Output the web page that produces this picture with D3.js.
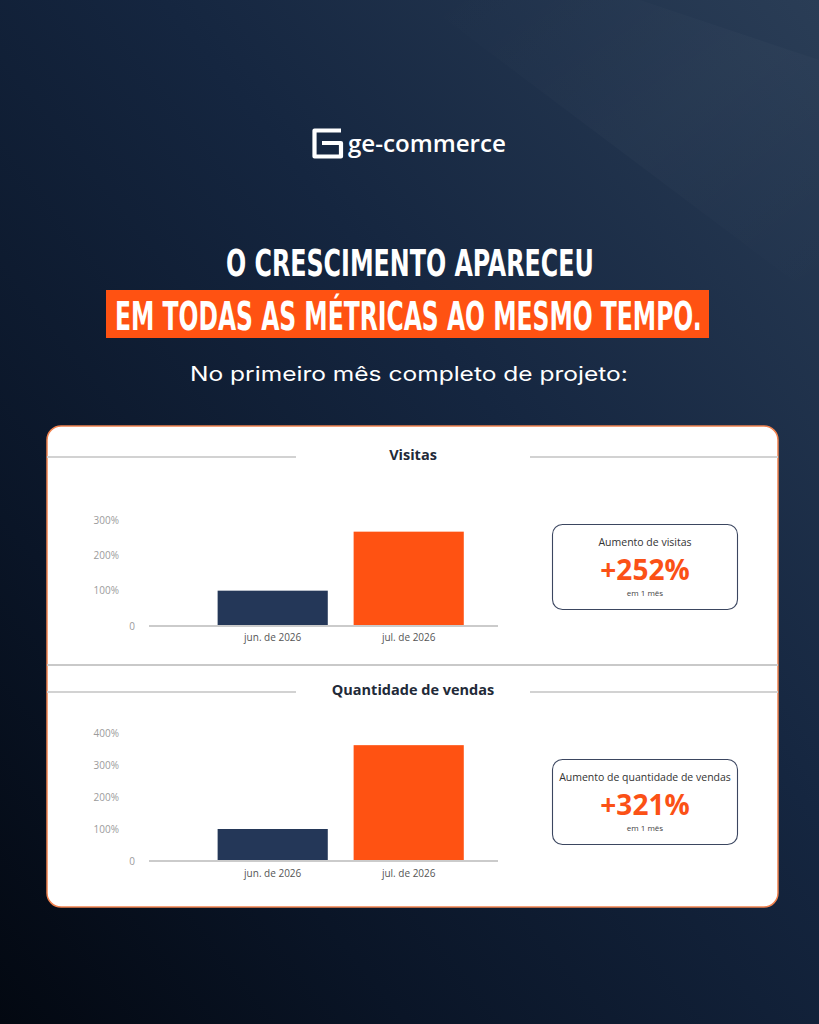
<!DOCTYPE html>
<html><head><meta charset="utf-8">
<script src="https://cdn.jsdelivr.net/npm/d3@7"></script>
<style>html,body{margin:0;padding:0;background:#0b1628;}svg{display:block;}</style>
</head><body>
<script>
// ---- data ----
const months = ["jun. de 2026", "jul. de 2026"];
const visitas = [100, 267];
const vendas = [100, 362];
const visitasTicks = [0, 100, 200, 300];
const vendasTicks = [0, 100, 200, 300, 400];
const sectionTitles = ["Visitas", "Quantidade de vendas"];
const cardTitles = ["Aumento de visitas", "Aumento de quantidade de vendas"];
const cardValues = ["+252%", "+321%"];
const cardNotes = ["em 1 mês", "em 1 mês"];
const headline1 = "O CRESCIMENTO APARECEU";
const headline2 = "EM TODAS AS MÉTRICAS AO MESMO TEMPO.";
const subtitle = "No primeiro mês completo de projeto:";
const brand = "ge-commerce";

const W = 819, H = 1024;
const NAVY = "#243758", ORANGE = "#ff5212";
const svg = d3.select("body").append("svg").attr("width", W).attr("height", H);
const defs = svg.append("defs");
const bg = defs.append("linearGradient").attr("id","bg").attr("x1","1").attr("y1","0").attr("x2","0").attr("y2","1");
bg.append("stop").attr("offset","0").attr("stop-color","#2a3d56");
bg.append("stop").attr("offset","0.4").attr("stop-color","#152640");
bg.append("stop").attr("offset","0.75").attr("stop-color","#0a1527");
bg.append("stop").attr("offset","1").attr("stop-color","#030811");
svg.append("rect").attr("width",W).attr("height",H).attr("fill","url(#bg)");
const streak = defs.append("linearGradient").attr("id","streak").attr("x1","0").attr("y1","0").attr("x2","1").attr("y2","1");
streak.append("stop").attr("offset","0").attr("stop-color","#ffffff").attr("stop-opacity",0);
streak.append("stop").attr("offset","0.5").attr("stop-color","#ffffff").attr("stop-opacity",0.02);
streak.append("stop").attr("offset","1").attr("stop-color","#ffffff").attr("stop-opacity",0);
svg.append("path").attr("d","M819,60 L819,300 L420,0 L640,0 Z").attr("fill","url(#streak)");

// text fitted horizontally to a target width via a scale transform
function fitText(str, x, y, width, attrs){
  const g = svg.append("g");
  const t = g.append("text").attr("x",0).attr("y",0).text(str);
  Object.entries(attrs).forEach(([k,v])=>t.attr(k,v));
  const w = t.node().getComputedTextLength();
  g.attr("transform",`translate(${x},${y}) scale(${width/w},1)`);
  return t;
}

// ---- logo ----
svg.append("path")
  .attr("d","M341,130.5 H314.5 V156.5 H341 V143 H322")
  .attr("fill","none").attr("stroke","#fff").attr("stroke-width",4.2)
  .attr("stroke-linejoin","round");
fitText(brand, 348, 151.5, 158, {"font-family":"Open Sans, sans-serif","font-weight":600,"font-size":24,"fill":"#fff"});

// ---- headline ----
const condensed = "Liberation Sans Narrow, DejaVu Sans Condensed, sans-serif";
fitText(headline1, 226, 275.5, 368, {"font-family":condensed,"font-weight":700,"font-size":37,"fill":"#fff"});
svg.append("rect").attr("x",106).attr("y",290).attr("width",603).attr("height",48).attr("fill",ORANGE);
fitText(headline2, 115, 329.5, 587, {"font-family":condensed,"font-weight":700,"font-size":39,"fill":"#fff"});
fitText(subtitle, 190, 381, 438, {"font-family":"Inter, Noto Sans, sans-serif","font-weight":400,"font-size":20,"fill":"#fff"});

// ---- panel ----
svg.append("rect").attr("x",47).attr("y",426).attr("width",731).attr("height",481).attr("rx",14)
  .attr("fill","#fff").attr("stroke","#f0824f").attr("stroke-width",1.5);
svg.append("line").attr("x1",47).attr("x2",778).attr("y1",665).attr("y2",665)
  .attr("stroke","#c9c9c9").attr("stroke-width",2);

function section(title, ty){
  svg.append("line").attr("x1",47).attr("x2",296).attr("y1",ty).attr("y2",ty).attr("stroke","#d2d2d2").attr("stroke-width",2);
  svg.append("line").attr("x1",530).attr("x2",778).attr("y1",ty).attr("y2",ty).attr("stroke","#d2d2d2").attr("stroke-width",2);
  svg.append("text").attr("x",413).attr("y",ty+3).attr("text-anchor","middle").text(title)
    .attr("font-family","Open Sans, sans-serif").attr("font-weight",700).attr("font-size",14.5).attr("fill","#222a38");
}

function chart(values, ticks, maxV, y0, yTop, xPad){
  const x = d3.scaleBand().domain(months).range([204.7, 476.7]).paddingInner(0.19).paddingOuter(0.095);
  const y = d3.scaleLinear().domain([0, maxV]).range([y0, yTop]);
  const g = svg.append("g");
  g.selectAll("rect.bar").data(values).join("rect").attr("class","bar")
    .attr("x",(d,i)=>x(months[i])).attr("width",x.bandwidth())
    .attr("y",d=>y(d)).attr("height",d=>y(0)-y(d))
    .attr("fill",(d,i)=> i===0 ? NAVY : ORANGE);
  g.append("line").attr("x1",149).attr("x2",498).attr("y1",y(0)).attr("y2",y(0))
    .attr("stroke","#cbcbcb").attr("stroke-width",2);
  const ya = g.append("g").attr("transform","translate(125,0)")
    .call(d3.axisLeft(y).tickValues(ticks).tickSize(0).tickPadding(6).tickFormat(d=> d===0 ? "0" : d+"%"));
  ya.select(".domain").remove();
  ya.selectAll("text").attr("font-family","Open Sans, sans-serif").attr("font-size",10).attr("fill","#9b9b9b");
  ya.selectAll(".tick").filter(d=>d===0).select("text").attr("x",10);
  const xa = g.append("g").attr("transform",`translate(0,${y(0)})`)
    .call(d3.axisBottom(x).tickSize(0).tickPadding(xPad));
  xa.select(".domain").remove();
  xa.selectAll("text").attr("font-family","Open Sans, sans-serif").attr("font-size",10).attr("fill","#555");
}

function card(i, top){
  svg.append("rect").attr("x",552.5).attr("y",top).attr("width",185).attr("height",85).attr("rx",10)
    .attr("fill","#fff").attr("stroke","#3b4660").attr("stroke-width",1.1);
  const cx = 645;
  svg.append("text").attr("x",cx).attr("y",top+21.5).attr("text-anchor","middle").text(cardTitles[i])
    .attr("font-family","Open Sans, sans-serif").attr("font-size",10.5).attr("fill","#333");
  svg.append("text").attr("x",cx).attr("y",top+55.5).attr("text-anchor","middle").text(cardValues[i])
    .attr("font-family","Open Sans, sans-serif").attr("font-weight",700).attr("font-size",28).attr("fill","#fb5116");
  svg.append("text").attr("x",cx).attr("y",top+71.5).attr("text-anchor","middle").text(cardNotes[i])
    .attr("font-family","Open Sans, sans-serif").attr("font-size",8).attr("fill","#444");
}

section(sectionTitles[0], 457);
chart(visitas, visitasTicks, 300, 626, 520, 8);
card(0, 524.5);

section(sectionTitles[1], 692);
chart(vendas, vendasTicks, 400, 861, 733, 9);
card(1, 759.5);
</script>
</body></html>
